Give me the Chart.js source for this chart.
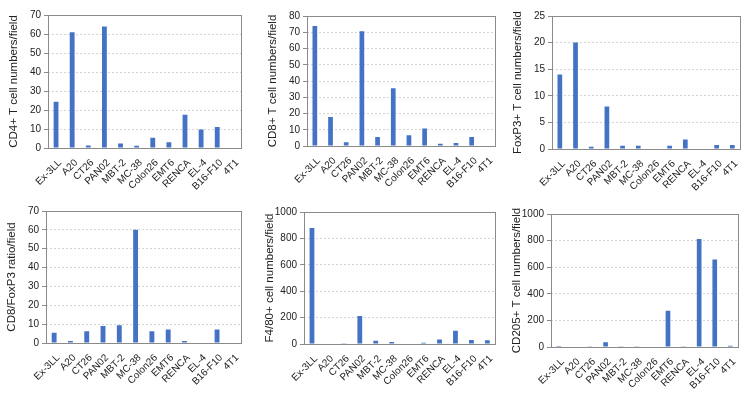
<!DOCTYPE html>
<html>
<head>
<meta charset="utf-8">
<script src="https://cdn.jsdelivr.net/npm/chart.js@4"></script>
<style>
  html, body { margin: 0; padding: 0; background: #fff; }
  #wrap { position: relative; width: 752px; height: 396px; overflow: hidden; }
  #wrap canvas { position: absolute; }
</style>
</head>
<body>
<div id="wrap"></div>
<script>
// tumour models on the x axis (same for every panel)
const tumors = ['Ex-3LL', 'A20', 'CT26', 'PAN02', 'MBT-2', 'MC-38', 'Colon26', 'EMT6', 'RENCA', 'EL-4', 'B16-F10', '4T1'];

const cd4Values    = [24.4, 60.9, 1.3, 63.9, 2.4, 1.2, 5.4, 3.0, 17.5, 9.8, 11.0, 0.3];
const cd8Values    = [73.9, 17.8, 2.3, 70.6, 5.6, 35.6, 6.6, 10.7, 1.4, 1.9, 5.6, 0.3];
const foxp3Values  = [14.0, 20.0, 0.4, 8.0, 0.6, 0.6, 0, 0.6, 1.8, 0, 0.75, 0.75];
const ratioValues  = [5.5, 1.0, 6.2, 9.0, 9.4, 60.0, 6.2, 7.1, 1.0, 0, 7.1, 0.3];
const f480Values   = [879, 3, 5, 212, 25, 15, 3, 10, 35, 101, 30, 28];
const cd205Values  = [8, 3, 2, 35, 5, 5, 3, 273, 2, 812, 657, 10];

const yTitles = [
  'CD4+ T cell numbers/field',
  'CD8+ T cell numbers/field',
  'FoxP3+ T cell numbers/field',
  'CD8/FoxP3 ratio/field',
  'F4/80+ cell numbers/field',
  'CD205+ T cell numbers/field'
];
const yMax  = [70, 80, 25, 70, 1000, 1000];
const ySteps = [10, 10, 5, 10, 200, 200];
const seriesList = [cd4Values, cd8Values, foxp3Values, ratioValues, f480Values, cd205Values];

// plot area boxes: left, top, right, bottom
const plotBoxes = [
  [48, 15, 247, 148],
  [307, 16, 501, 146],
  [552, 16, 746, 149],
  [46, 211, 247, 343],
  [304, 212, 501, 344],
  [551, 214, 744, 347]
];

const Y_AXIS_W = 48;
const X_AXIS_H = 52;
const PAD_TOP = 16;
const PAD_RIGHT = 4;
const FONT = "'Liberation Sans', Arial, sans-serif";

// draw the grey frame round the plot area, like the original
const frameBox = {
  id: 'frameBox',
  afterDraw(chart) {
    const { ctx, chartArea: a } = chart;
    ctx.save();
    ctx.strokeStyle = '#8a8a8a';
    ctx.lineWidth = 1;
    ctx.strokeRect(Math.round(a.left) + 0.5, Math.round(a.top) + 0.5,
      Math.round(a.right - a.left), Math.round(a.bottom - a.top));
    ctx.restore();
  }
};

const wrap = document.getElementById('wrap');

plotBoxes.forEach((box, i) => {
  const [l, t, r, b] = box;
  const canvas = document.createElement('canvas');
  const w = Math.round(r - l + Y_AXIS_W + PAD_RIGHT);
  const h = Math.round(b - t + PAD_TOP + X_AXIS_H);
  canvas.width = w;
  canvas.height = h;
  canvas.style.width = w + 'px';
  canvas.style.height = h + 'px';
  canvas.style.left = (l - Y_AXIS_W) + 'px';
  canvas.style.top = (t - PAD_TOP) + 'px';
  wrap.appendChild(canvas);

  new Chart(canvas, {
    type: 'bar',
    data: {
      labels: tumors,
      datasets: [{
        data: seriesList[i],
        backgroundColor: '#4472C4',
        borderWidth: 0,
        barPercentage: 0.3,
        categoryPercentage: 1
      }]
    },
    options: {
      responsive: false,
      animation: false,
      devicePixelRatio: 1,
      layout: { padding: { top: PAD_TOP, right: PAD_RIGHT, left: 0, bottom: 0 } },
      plugins: { legend: { display: false }, tooltip: { enabled: false } },
      scales: {
        x: {
          afterFit(scale) { scale.height = X_AXIS_H; },
          grid: { display: false, drawTicks: false },
          border: { display: false },
          ticks: {
            autoSkip: false,
            maxRotation: 45,
            minRotation: 45,
            padding: 9,
            labelOffset: 4,
            color: '#222',
            font: { family: FONT, size: 10 }
          }
        },
        y: {
          min: 0,
          max: yMax[i],
          afterFit(scale) { scale.width = Y_AXIS_W; },
          grid: { color: '#d4d4d4', drawTicks: true, tickLength: 4, tickColor: '#8a8a8a' },
          border: { display: false, dash: [2, 2] },
          ticks: {
            stepSize: ySteps[i],
            padding: 3,
            color: '#222',
            font: { family: FONT, size: 10 },
            callback: v => String(v)
          },
          title: {
            display: true,
            text: yTitles[i],
            color: '#222',
            padding: { top: 7, bottom: 0 },
            font: { family: FONT, size: 11.5 }
          }
        }
      }
    },
    plugins: [frameBox]
  });
});
</script>
</body>
</html>
